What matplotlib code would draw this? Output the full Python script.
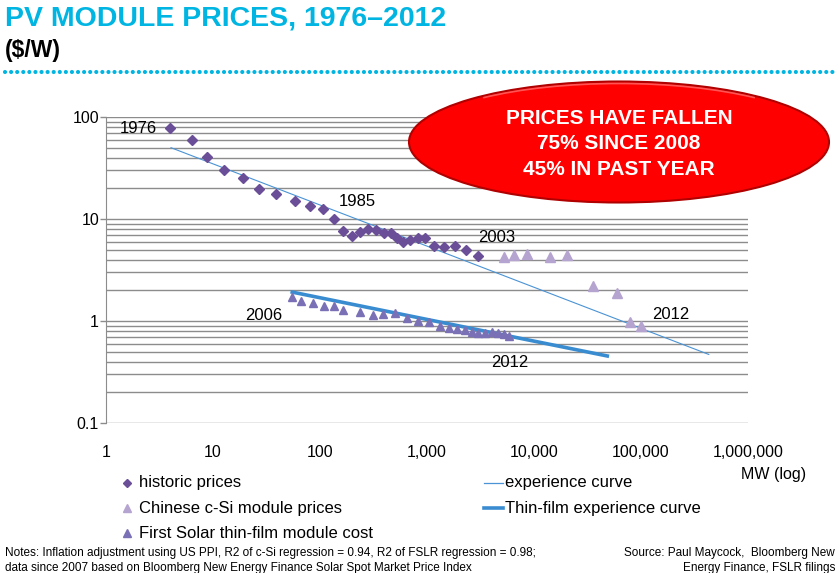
import numpy as np
import matplotlib
matplotlib.use("Agg")
import matplotlib.pyplot as plt
from matplotlib.patches import Ellipse, Arc
from matplotlib.lines import Line2D
from matplotlib.ticker import FixedLocator, NullLocator

plt.rcParams['font.family'] = ['Liberation Sans', 'DejaVu Sans']

# historic c-Si prices 1976-2003 (cumulative MW, $/W)
hist_mw = [3.96, 6.32, 8.73, 12.8, 19.2, 26.9, 38.8, 58.8, 80, 106, 134, 163, 198, 237,
           283, 334, 394, 458, 525, 601, 689, 818, 964, 1170, 1452, 1840, 2330, 3020]
hist_price = [78.5, 59, 40.5, 30.4, 25, 19.7, 17.6, 15, 13.4, 12.4, 10, 7.6, 6.77, 7.46,
              8.0, 7.8, 7.3, 7.24, 6.47, 5.9, 6.18, 6.56, 6.56, 5.47, 5.27, 5.47, 4.93, 4.34]

# Chinese c-Si module prices
cn_mw = [5280, 6460, 8550, 14200, 20200, 35600, 59700, 78900, 100700]
cn_price = [4.27, 4.4, 4.57, 4.21, 4.4, 2.22, 1.88, 0.98, 0.89]

# First Solar thin-film module cost 2006-2012
fs_mw = [55, 66.8, 86, 110, 135, 164, 235, 311, 391, 499, 646, 818, 1040, 1310, 1610,
         1907, 2265, 2650, 3020, 3480, 4070, 4640, 5250, 5880]
fs_cost = [1.71, 1.57, 1.51, 1.40, 1.39, 1.29, 1.23, 1.15, 1.16, 1.19, 1.08, 1.01, 0.98,
           0.90, 0.86, 0.83, 0.81, 0.775, 0.77, 0.77, 0.775, 0.757, 0.746, 0.718]

# fitted experience curves (end points)
exp_mw = [4.05, 430000]
exp_price = [50, 0.47]
tf_mw = [55, 48400]
tf_price = [1.92, 0.454]

# year labels (MW, $/W)
year_labels = [("1976", 2.0, 78), ("1985", 222, 15), ("2003", 4510, 6.66),
               ("2012", 190600, 1.17), ("2006", 30, 1.12), ("2012", 5970, 0.396)]

x_ticks = [1, 10, 100, 1000, 10000, 100000, 1000000]
x_labels = ["1", "10", "100", "1,000", "10,000", "100,000", "1,000,000"]
y_ticks = [0.1, 1, 10, 100]
y_labels = ["0.1", "1", "10", "100"]

c_hist = "#6B4E98"
c_cn = "#B5A3D0"
c_fs = "#7A70B6"
c_exp = "#4A93D4"
c_tf = "#3A8CD0"
cyan = "#00B5E2"

fig = plt.figure(figsize=(8.4, 5.73), dpi=100)
ax = fig.add_axes([106 / 840, 1 - 423 / 573, 642 / 840, 306 / 573])
ax.set_xscale("log")
ax.set_yscale("log")
ax.set_xlim(1, 1e6)
ax.set_ylim(0.1, 100)

# gridlines at every 1..9 of each decade
minor = [m * 10.0 ** e for e in range(-1, 2) for m in range(1, 10)] + [100]
for v in minor:
    ax.axhline(v, color="#8C8C8C", lw=1.0, zorder=0)

ax.plot(exp_mw, exp_price, color=c_exp, lw=0.8, zorder=2)
ax.plot(tf_mw, tf_price, color=c_tf, lw=2.6, zorder=2)
ax.plot(hist_mw, hist_price, ls="none", marker="D", ms=5, color=c_hist, zorder=3)
ax.plot(cn_mw, cn_price, ls="none", marker="^", ms=7, color=c_cn, zorder=3)
ax.plot(fs_mw, fs_cost, ls="none", marker="^", ms=6, color=c_fs, zorder=3)

for s in ["top", "right", "bottom"]:
    ax.spines[s].set_visible(False)
ax.spines["left"].set_color("#8C8C8C")
ax.xaxis.set_major_locator(FixedLocator(x_ticks))
ax.xaxis.set_minor_locator(NullLocator())
ax.set_xticklabels(x_labels)
ax.yaxis.set_major_locator(FixedLocator(y_ticks))
ax.yaxis.set_minor_locator(NullLocator())
ax.set_yticklabels(y_labels)
ax.tick_params(axis="x", length=0, pad=16, labelsize=11.5)
ax.tick_params(axis="y", length=4, width=1, color="#8C8C8C", pad=1, labelsize=11.5)

for lab, x, y in year_labels:
    ax.text(x, y, lab, fontsize=12, ha="center", va="center", zorder=4)

narrow = ["Liberation Sans Narrow", "Liberation Sans"]

# headline
fig.text(5 / 840, 1 - 18 / 573, "PV MODULE PRICES, 1976\u20132012", color=cyan,
         fontsize=20.5, fontweight="bold", va="center", ha="left", family=narrow)
fig.text(5 / 840, 1 - 50 / 573, "($/W)", color="black", fontsize=16.5, fontweight="bold",
         va="center", ha="left", family=narrow)
fig.add_artist(Line2D([5 / 840, 835 / 840], [1 - 72 / 573, 1 - 72 / 573],
                      transform=fig.transFigure, color=cyan, lw=3,
                      dashes=(0.01, 1.45), dash_capstyle="round"))

# red callout
fig.add_artist(Ellipse((619 / 840, 1 - 142 / 573), 420 / 840, 121 / 573,
                       transform=fig.transFigure, facecolor="#FF0000",
                       edgecolor="#B00000", lw=1.5, zorder=5))
fig.add_artist(Arc((619 / 840, 1 - 141 / 573), 412 / 840, 115 / 573, theta1=25, theta2=155,
                   transform=fig.transFigure, edgecolor="#FF6A6A", lw=1.2, alpha=0.8, zorder=5))
for i, line in enumerate(["PRICES HAVE FALLEN", "75% SINCE 2008", "45% IN PAST YEAR"]):
    fig.text(619 / 840, 1 - (118 + 25.5 * i) / 573, line, color="white", fontsize=15,
             fontweight="bold", ha="center", va="center", zorder=6)

fig.text(741 / 840, 1 - 474 / 573, "MW (log)", fontsize=11.5, ha="left", va="center")

# legend
leg = [
    (127, 483, dict(marker="D", ms=4, color=c_hist), "historic prices"),
    (127, 508, dict(marker="^", ms=6, color=c_cn), "Chinese c-Si module prices"),
    (127, 533, dict(marker="^", ms=6, color=c_fs), "First Solar thin-film module cost"),
]
for x, y, kw, lab in leg:
    fig.add_artist(Line2D([x / 840], [1 - y / 573], ls="none", transform=fig.transFigure, **kw))
    fig.text((x + 12) / 840, 1 - y / 573, lab, fontsize=12, va="center", ha="left")
for y, lw, col, lab in [(483, 0.9, c_exp, "experience curve"), (508, 2.6, c_tf, "Thin-film experience curve")]:
    fig.add_artist(Line2D([484 / 840, 503 / 840], [1 - y / 573] * 2, transform=fig.transFigure,
                          color=col, lw=lw))
    fig.text(505 / 840, 1 - y / 573, lab, fontsize=12, va="center", ha="left")

fig.text(5 / 840, 1 - 553 / 573,
         "Notes: Inflation adjustment using US PPI, R2 of c-Si regression = 0.94, R2 of FSLR regression = 0.98;",
         fontsize=8.5, va="center", ha="left", family=narrow)
fig.text(5 / 840, 1 - 568 / 573,
         "data since 2007 based on Bloomberg New Energy Finance Solar Spot Market Price Index",
         fontsize=8.5, va="center", ha="left", family=narrow)
fig.text(835 / 840, 1 - 553 / 573, "Source: Paul Maycock,  Bloomberg New",
         fontsize=8.5, va="center", ha="right", family=narrow)
fig.text(835 / 840, 1 - 568 / 573, "Energy Finance, FSLR filings",
         fontsize=8.5, va="center", ha="right", family=narrow)

fig.savefig("out.png", dpi=100)
